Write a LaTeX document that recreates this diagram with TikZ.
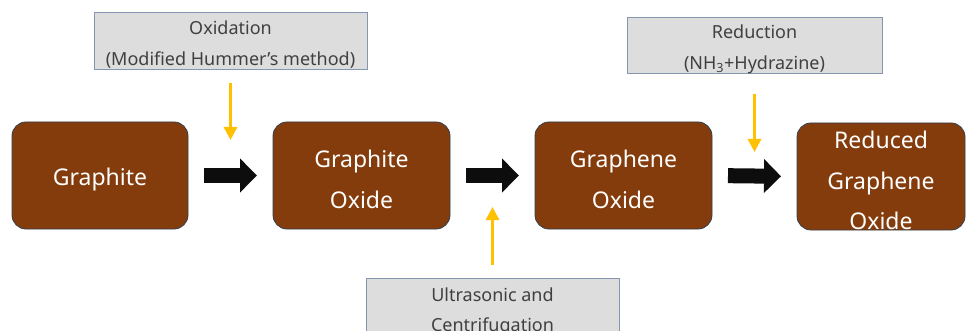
\documentclass[tikz,border=0pt]{standalone}
\usepackage{fontspec}
\setmainfont{Noto Sans}
\usetikzlibrary{arrows.meta}
\definecolor{brownfill}{HTML}{843C0C}
\definecolor{brownline}{HTML}{323F4F}
\definecolor{grayfill}{HTML}{DDDDDD}
\definecolor{grayline}{HTML}{8496B0}
\definecolor{graytext}{HTML}{404040}
\definecolor{orangearrow}{HTML}{FFC000}
\definecolor{blockarrow}{HTML}{0D0D0D}
\tikzset{
  stagebox/.style={rectangle, rounded corners=14pt, fill=brownfill, draw=brownline,
    line width=0.8pt, inner sep=0pt, outer sep=0pt, minimum height=107pt},
  stagetext/.style={text=white, align=center, inner sep=0pt, yshift=-4pt,
    font=\fontsize{23}{40.5}\selectfont},
  procbox/.style={rectangle, fill=grayfill, draw=grayline, line width=0.9pt,
    inner sep=0pt, outer sep=0pt},
  proctext/.style={text=graytext, align=center, inner sep=0pt,
    font=\fontsize{18}{30.5}\selectfont},
  bigarrow/.style={draw=blockarrow, line width=15pt, shorten <=16pt, shorten >=16pt,
    -{Triangle[width=33pt,length=17pt]}},
  yellowarrow/.style={draw=orangearrow, line width=3pt,
    -{Triangle[width=13pt,length=13pt]}}
}
\begin{document}
\begin{tikzpicture}[x=1pt,y=-1pt]
\clip (0,0) rectangle (966,331);
\fill[white] (0,0) rectangle (966,331);
% stage boxes
\node[stagebox, minimum width=176pt,
  label={[stagetext, name=graphitetext]center:Graphite}] (graphite) at (100,175.5) {};
\node[stagebox, minimum width=177pt,
  label={[stagetext, name=gotext]center:{Graphite\\Oxide}}] (go) at (361.5,175.5) {};
\node[stagebox, minimum width=177pt,
  label={[stagetext, name=geotext]center:{Graphene\\Oxide}}] (geo) at (623.5,175.5) {};
\node[stagebox, minimum width=168pt,
  label={[stagetext, name=rgotext]center:{Reduced\\Graphene\\Oxide}}] (rgo) at (881,176.5) {};
% process boxes
\node[procbox, minimum width=273pt, minimum height=57pt,
  label={[proctext, name=oxtext, yshift=-4pt]center:{Oxidation\\(Modified Hummer’s method)}}]
  (ox) at (230.5,40.5) {};
\node[procbox, minimum width=255pt, minimum height=56pt,
  label={[proctext, name=redtext, yshift=-4.5pt]center:{Reduction\\(NH\textsubscript{3}+Hydrazine)}}]
  (red) at (754.5,45) {};
\node[procbox, minimum width=253pt, minimum height=62pt,
  label={[proctext, name=ustext, yshift=-3pt]center:{Ultrasonic and\\Centrifugation}}]
  (us) at (492.5,309) {};
% block arrows
\draw[bigarrow] (graphite.east) -- (go.west);
\draw[bigarrow] (go.east) -- (geo.west);
\draw[bigarrow] (geo.east) -- (rgo.west);
% yellow arrows
\coordinate (oxend) at (230.5,140);
\coordinate (redend) at (754.5,152);
\coordinate (usend) at (492.5,207);
\draw[yellowarrow, shorten <=14pt] (ox.south) -- (oxend);
\draw[yellowarrow, shorten <=21pt] (red.south) -- (redend);
\draw[yellowarrow, shorten <=13pt] (us.north) -- (usend);
\end{tikzpicture}
\end{document}
